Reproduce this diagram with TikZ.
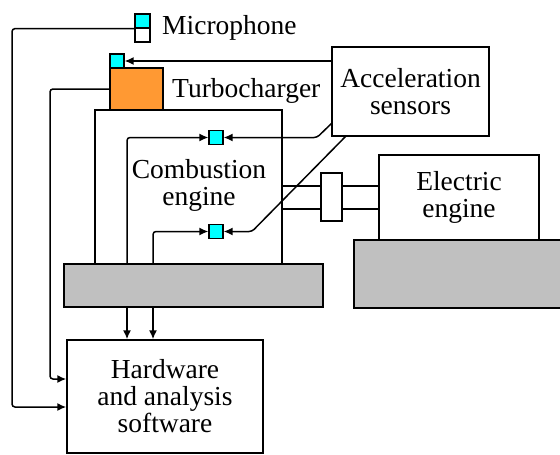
\documentclass[tikz,border=0pt]{standalone}
\usepackage{fontspec}
\setmainfont{Liberation Serif}
\newfontfamily\diagfont{Liberation Serif}
\definecolor{sensorcyan}{RGB}{0, 255, 255}
\definecolor{turboorange}{RGB}{255, 153, 51}
\definecolor{basegray}{RGB}{192, 192, 192}
\usetikzlibrary{arrows.meta, positioning}
\tikzset{
	block/.style={rectangle, draw=black, fill=white, line width=1.5pt, inner sep=0pt, align=center, font=\diagfont\fontsize{27.5}{27}\selectfont},
	base/.style={rectangle, draw=black, fill=basegray, line width=1.5pt, inner sep=0pt},
	sensor/.style={rectangle, draw=black, fill=sensorcyan, line width=1.2pt, inner sep=0pt, minimum size=14pt},
	caption/.style={inner sep=0pt, align=center, font=\diagfont\fontsize{27.5}{27}\selectfont},
	wire/.style={line width=1.5pt, rounded corners=3pt},
	arrow/.style={wire, -{Latex[length=9pt, width=8pt]}},
}

\begin{document}
\begin{tikzpicture}[x=1pt, y=-1pt]
		\useasboundingbox (0,0) rectangle (560,455);
		% engines and bases
		\node[block, minimum width=187pt, minimum height=154pt] (comb) at (188.5,187) {};
		\node[block, fill=turboorange, minimum width=53pt, minimum height=42pt] (turbo) at (136.5,89) {};
		\node[base, minimum width=259pt, minimum height=43pt] (combbase) at (193.5,285.5) {};
		\node[block, minimum width=160pt, minimum height=85pt] (elec) at (459,197.5) {Electric\\engine};
		\node[base, minimum width=207pt, minimum height=68pt] (elecbase) at (457.5,274) {};
		\node[block, minimum width=157pt, minimum height=89pt] (accel) at (410.5,91.5) {Acceleration\\sensors};
		\node[block, minimum width=196pt, minimum height=113pt] (hw) at (165,396.5) {Hardware\\and analysis\\software};
		\node[caption] (combtext) at (199,185) {Combustion\\engine};
		\node[caption, anchor=west] (turbotext) at (172,91) {Turbocharger};
		% sensors
		\node[sensor, minimum width=15pt] (mic) at (142.5,21) {};
		\node[sensor, fill=white, minimum width=15pt] (micbody) at (142.5,35) {};
		\node[caption, anchor=west] (mictext) at (162,28) {Microphone};
		\node[sensor] (tsens) at (117,61) {};
		\node[sensor] (sone) at (216,137.5) {};
		\node[sensor] (stwo) at (216,231.5) {};
		% shaft and coupling
		\draw[wire] (282,186) -- (elec.west |- 0,186);
		\draw[wire] (282,209) -- (elec.west |- 0,209);
		\node[block, minimum width=21pt, minimum height=48pt] (coupling) at (331.5,197) {};
		% wires
		\coordinate (micturn) at (12,407);
		\coordinate (turboturn) at (50,379);
		\coordinate (tapone) at (127,264);
		\coordinate (taptwo) at (153,264);
		\draw[arrow] (mic.south west) -| (micturn) -- (hw.west |- micturn);
		\draw[arrow] (turbo.west) -| (turboturn) -- (hw.west |- turboturn);
		\draw[arrow] (accel.west |- tsens) -- (tsens.east);
		\draw[arrow] (332,123) -- (317,137.5) -- (sone.east);
		\draw[arrow] (346,136) -- (252,231.5) -- (stwo.east);
		\draw[arrow] (tapone) |- (sone.west);
		\draw[arrow] (taptwo) |- (stwo.west);
		\draw[arrow] (tapone |- combbase.south) -- (tapone |- hw.north);
		\draw[arrow] (taptwo |- combbase.south) -- (taptwo |- hw.north);
	\end{tikzpicture}
\end{document}
